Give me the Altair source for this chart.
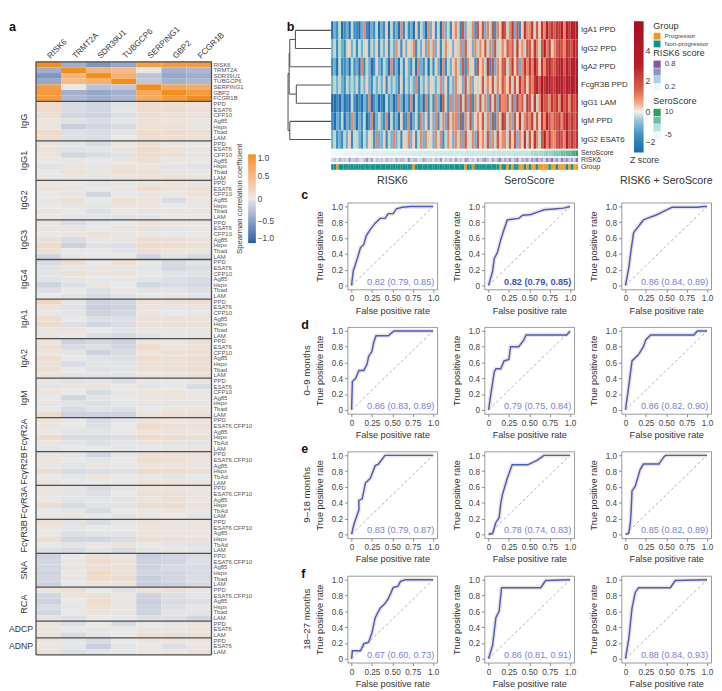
import altair as alt
import pandas as pd

FONT = "Liberation Sans"
TXT = "#333333"

# ======================= panel a data =======================
GENES = ["RISK6", "TRMT2A", "SDR39U1", "TUBGCP6", "SERPING1", "GBP2", "FCGR1B"]
AG7 = ["PPD", "ESAT6", "CFP10", "Ag85", "Hspx", "Tbad", "LAM"]
AGF = ["PPD", "ESAT6.CFP10", "Ag85", "Hspx", "TbAd", "LAM"]
AGL = ["PPD", "ESAT6.CFP10", "Ag85", "Hspx", "Tbad", "LAM"]
AGE = ["PPD", "ESAT6", "LAM"]

BLOCK_NAMES = ["genes", "IgG", "IgG1", "IgG2", "IgG3", "IgG4", "IgA1", "IgA2", "IgM",
               "FcγR2A", "FcγR2B", "FcγR3A", "FcγR3B", "SNA", "RCA", "ADCP", "ADNP"]
BLOCK_ROWS = [GENES, AG7, AG7, AG7, AG7, AG7, AG7, AG7, AG7, AGF, AGF, AGF, AGF, AGL, AGL, AGE, AGE]

# Spearman coefficients x100, columns in GENES order
CORR = {
    "genes": [[100, -40, -58, -45, 82, 86, 86], [-40, 100, 58, 50, 2, -38, -33],
              [-58, 58, 100, 62, -25, -45, -40], [-45, 50, 62, 100, -22, -38, -33],
              [82, 2, -25, -22, 100, 72, 68], [86, -38, -45, -38, 72, 100, 86],
              [86, -33, -40, -33, 68, 86, 100]],
    "IgG": [[12, -9, -12, -4, 12, 9, 6], [15, -8, -12, -3, 15, 12, 9], [9, -12, -15, -6, 12, 10, 8],
            [3, -5, -8, -3, 8, 5, 3], [6, -18, -12, -8, 10, 8, 5], [15, -6, -9, -3, 15, 12, 9],
            [12, -6, -8, 0, 12, 9, 8]],
    "IgG1": [[4, -3, -9, 3, 9, 3, 0], [8, -4, -3, 6, 15, 8, 4], [6, -12, -8, -4, 12, 9, 4],
             [2, 3, 0, 4, 9, 3, 2], [-4, 6, 3, 8, 6, -3, -4], [0, 8, 4, 9, 8, 4, 2],
             [3, 3, 4, 6, 8, 9, 6]],
    "IgG2": [[3, 0, -3, 3, 4, 6, 3], [6, 3, 0, 3, 12, 6, 9], [0, 3, -12, 0, 4, 2, 6],
             [3, 8, 0, 9, 6, -8, 3], [0, 4, -3, 6, 3, 0, 2], [3, 0, -6, 3, 4, 3, 3],
             [0, -3, -3, -4, -3, 0, 0]],
    "IgG3": [[6, -8, -3, 0, 8, 6, 4], [3, 4, 0, 3, 6, 3, 2], [0, 3, 8, 4, 3, 0, 0],
             [9, -9, 3, 4, 12, 9, 6], [15, -15, -4, -6, 15, 12, 9], [9, 0, 0, -4, 9, 6, 4],
             [-12, 3, 0, 0, -12, -4, -9]],
    "IgG4": [[-8, 12, 0, 9, 0, -9, -3], [-4, 3, 4, 3, -3, -12, -8], [-3, 9, 6, 8, 0, -4, -4],
             [-4, 3, 0, 3, -3, -6, -9], [-15, -6, 3, 0, -12, -9, -10], [-6, 0, -6, 3, -3, -3, -6],
             [0, -3, -9, -4, 0, 3, -3]],
    "IgA1": [[20, -3, -15, -12, 9, 9, 12], [6, -4, -18, -15, 6, 3, 4], [3, -3, -15, -12, 4, 0, 3],
             [12, 0, -6, -6, 8, 8, 8], [15, -6, -12, -9, 8, 9, 8], [4, 6, 0, -3, 3, 3, 3],
             [3, 0, -6, -9, -4, 3, 4]],
    "IgA2": [[6, -15, -12, -15, 6, 3, 8], [9, -9, -6, -12, 15, 6, 8], [4, -3, -15, -9, 4, 9, 9],
             [12, 0, -4, -6, 12, 9, 12], [8, -8, -3, -4, 9, 8, 9], [9, 0, -4, -3, 8, 9, 12],
             [6, -3, -3, -4, 4, 6, 9]],
    "IgM": [[4, -4, -3, -9, 4, 3, 4], [-3, 3, 6, 0, -3, 0, -9], [6, 0, -9, 3, 6, 6, 3],
            [0, -12, -3, 0, 3, 4, 3], [3, -4, -6, -3, 4, 3, 3], [0, -9, -4, -6, 0, 3, 3],
            [12, -15, -15, -15, 6, 9, 9]],
    "FcγR2A": [[6, 0, -8, -3, 6, 3, 4], [6, 0, -6, 0, 15, 9, 8], [0, -3, -3, 0, 6, 4, 3],
               [15, -9, -9, -6, 15, 12, 10], [3, -3, -6, -3, 3, 4, -3], [-3, 0, 0, -3, 0, 3, 4]],
    "FcγR2B": [[4, -3, -12, -3, 9, 9, 8], [6, 0, -3, 0, 12, 9, 6], [3, -3, 3, 0, 6, 3, 3],
               [12, -9, -6, -4, 15, 12, 9], [0, -3, 6, 0, 3, -3, 0], [4, 0, 0, 0, 6, 6, 6]],
    "FcγR3A": [[4, -3, -8, -3, 6, 6, 3], [3, -3, -6, 0, 9, 9, 4], [0, -3, -3, -3, 4, 9, 3],
               [12, -9, -4, -4, 12, 12, 8], [0, -3, -9, 0, 3, 6, 3], [3, 6, 0, -3, 3, 0, -3]],
    "FcγR3B": [[9, -4, -9, -3, 8, 6, 4], [3, -3, 0, 0, 6, 3, 3], [0, -6, -3, -3, 4, 3, 3],
               [12, -12, -12, -9, 12, 9, 8], [0, -3, 3, 6, 0, -3, -4], [-6, -9, -3, -9, -3, 3, -3]],
    "SNA": [[-15, 0, 9, 6, -18, -12, -8], [-12, 3, 12, 8, -15, -12, -6], [-12, 4, 9, 9, -15, -9, -8],
            [-15, 0, 15, 9, -12, -12, -9], [-12, 3, 12, 12, -18, -12, -8], [-15, 0, 6, 6, -18, -15, -9]],
    "RCA": [[6, 9, 0, -4, 6, 9, 3], [-12, 6, 9, 3, -15, -6, -3], [-15, 0, 12, 6, -18, -9, -6],
            [-9, 3, 9, 3, -15, -6, -3], [-12, 0, 6, 3, -15, -3, -3], [-3, -6, 0, 0, -6, -6, -12]],
    "ADCP": [[6, -6, 0, -9, 0, 3, 6], [6, 0, 3, 0, 3, 3, 6], [6, -9, -3, 0, 9, 9, 9]],
    "ADNP": [[6, -3, -9, 0, 3, 6, 4], [3, -3, -18, -3, 0, -6, 3], [9, -6, -3, -3, 6, 6, 9]],
}

# ======================= panel b data =======================
Z_ROWS = ["IgA1 PPD", "IgG2 PPD", "IgA2 PPD", "FcgR3B PPD", "IgG1 LAM", "IgM PPD", "IgG2 ESAT6"]
Z_LEVELS = [-2.5, -1.7, -1.0, -0.35, 0.3, 1.0, 1.8, 2.6, 3.5, 4.5]
Z_CODES = [
    "0213012031" "1025102130" "2140312051" "3120413205" "2413052314"
    "5316243516" "4625361547" "6357261475" "5736475867" "6778587888",
    "2313213423" "1323413241" "3241325314" "2435132425" "3524135342"
    "4352634253" "5463526345" "4656374536" "6475368574" "5676577687",
    "1203112031" "2051320142" "1320512031" "4213052130" "3142051324"
    "5326153416" "4537162546" "6357462575" "7586475786" "6788687898",
    "2323213232" "3132421323" "2413232141" "3232513242" "4323524132"
    "5342635243" "4635463546" "5463647564" "6578697887" "7898788989",
    "0010201031" "0102150120" "1031201520" "2150312051" "3152063152"
    "5263626153" "6352636265" "5636275637" "6473586657" "6758675767",
    "1021302152" "0213015023" "2150312041" "1502315241" "4251352635"
    "5261536245" "4635261537" "6352647356" "5736475865" "6675786767",
    "2312132413" "3213243152" "2413252314" "3524135253" "4253513542"
    "5352643526" "4536253645" "5364625473" "6475368575" "5676586767",
]
SERO = [-6, -6, -5, -5, -5, -5, -4, -4, -4, -4, -4, -3, -3, -3, -3, -3, -3, -2, -2, -2,
        -2, -2, -2, -2, -1, -1, -1, -1, -1, -1, -1, -1, 0, 0, 0, 0, 0, 0, 0, 0,
        0, 0, 0, 1, 1, 1, 1, 1, 1, 1, 1, 1, 1, 1, 2, 2, 2, 2, 2, 2,
        2, 2, 2, 2, 2, 3, 3, 3, 3, 3, 3, 3, 3, 3, 4, 4, 4, 4, 4, 4,
        4, 5, 5, 5, 5, 5, 6, 6, 6, 6, 7, 7, 7, 8, 8, 8, 9, 9, 10, 11]
RISK6_CODES = ("2314231623" "4213625132" "3142315243" "1623412532" "3142613241"
               "5231642315" "2463152472" "5362471536" "2647352748" "3627463528")
GROUP_CODES = ("NNPNNNNNNN" "NNNNNNNNNN" "NNNNNNNNNN" "NNNPNNNNNN" "NNNNNNNNNN"
               "NNNNPNNPNN" "NNNNNNNNPN" "NPNPNNPPNP" "NPPNPPPPNP" "PNPPPNPNPP")
# dendrogram merges: (child a, child b, height)
MERGES = [("L0", "L1", 41.0), ("n1", "L2", 47.5), ("L3", "L4", 40.0),
          ("n2", "n3", 48.2), ("L5", "L6", 47.5), ("n4", "n5", 49.5)]

# ======================= panels c-f data =======================
COL_TITLES = ["RISK6", "SeroScore", "RISK6 + SeroScore"]
ROW_TITLES = ["", "0–9 months", "9–18 months", "18–27 months"]
LETTERS = ["c", "d", "e", "f"]

C_R_FPR = [0, 0.02, 0.07, 0.11, 0.15, 0.18, 0.23, 0.29, 0.35, 0.41, 0.45, 0.51, 0.55, 0.62, 0.72, 1.0]
C_R_TPR = [0, 0.18, 0.34, 0.48, 0.52, 0.63, 0.71, 0.79, 0.85, 0.85, 0.91, 0.91, 0.97, 0.99, 1.0, 1.0]
C_S_FPR = [0, 0.05, 0.07, 0.11, 0.15, 0.19, 0.23, 0.29, 0.37, 0.42, 0.52, 0.6, 0.68, 0.8, 0.92, 1.0]
C_S_TPR = [0, 0.18, 0.34, 0.42, 0.58, 0.71, 0.83, 0.84, 0.85, 0.89, 0.9, 0.93, 0.96, 0.97, 0.98, 1.0]
C_B_FPR = [0, 0.04, 0.07, 0.1, 0.16, 0.22, 0.29, 0.37, 0.45, 0.53, 0.57, 0.88, 0.96, 1.0]
C_B_TPR = [0, 0.22, 0.46, 0.67, 0.75, 0.83, 0.86, 0.89, 0.93, 0.97, 0.99, 0.99, 1.0, 1.0]
D_R_FPR = [0, 0.01, 0.05, 0.09, 0.15, 0.19, 0.21, 0.25, 0.27, 0.3, 0.45, 0.52, 1.0]
D_R_TPR = [0, 0.36, 0.4, 0.5, 0.5, 0.58, 0.68, 0.74, 0.85, 0.94, 0.94, 1.0, 1.0]
D_S_FPR = [0, 0.03, 0.07, 0.09, 0.15, 0.19, 0.25, 0.27, 0.37, 0.43, 0.46, 0.96, 1.0]
D_S_TPR = [0, 0.21, 0.48, 0.52, 0.52, 0.62, 0.64, 0.8, 0.8, 0.88, 0.95, 0.95, 1.0]
D_B_FPR = [0, 0.04, 0.08, 0.16, 0.22, 0.25, 0.31, 0.84, 0.88, 1.0]
D_B_TPR = [0, 0.3, 0.62, 0.7, 0.8, 0.89, 0.95, 0.95, 1.0, 1.0]
E_R_FPR = [0, 0.03, 0.05, 0.09, 0.09, 0.13, 0.17, 0.23, 0.29, 0.33, 0.41, 1.0]
E_R_TPR = [0, 0.13, 0.19, 0.31, 0.43, 0.45, 0.65, 0.71, 0.87, 0.89, 1.0, 1.0]
E_S_FPR = [0, 0.05, 0.09, 0.13, 0.15, 0.17, 0.23, 0.29, 0.48, 0.6, 0.68, 1.0]
E_S_TPR = [0, 0.01, 0.15, 0.21, 0.39, 0.5, 0.71, 0.88, 0.88, 0.94, 1.0, 1.0]
E_B_FPR = [0, 0.04, 0.06, 0.07, 0.08, 0.12, 0.18, 0.22, 0.41, 0.47, 0.49, 1.0]
E_B_TPR = [0, 0.01, 0.15, 0.31, 0.55, 0.61, 0.82, 0.89, 0.89, 0.98, 1.0, 1.0]
F_R_FPR = [0, 0.01, 0.11, 0.15, 0.21, 0.25, 0.29, 0.35, 0.41, 0.45, 0.51, 0.57, 0.6, 0.66, 1.0]
F_R_TPR = [0, 0.1, 0.1, 0.19, 0.21, 0.33, 0.52, 0.64, 0.7, 0.76, 0.9, 0.92, 0.98, 1.0, 1.0]
F_S_FPR = [0, 0.05, 0.09, 0.13, 0.16, 0.64, 0.7, 1.0]
F_S_TPR = [0, 0.17, 0.52, 0.6, 0.9, 0.9, 0.99, 1.0]
F_B_FPR = [0, 0.04, 0.08, 0.12, 0.16, 0.55, 0.61, 1.0]
F_B_TPR = [0, 0.25, 0.64, 0.84, 0.9, 0.9, 0.99, 1.0]

AUC = [["0.82 (0.79, 0.85)", "0.82 (0.79, 0.85)", "0.86 (0.84, 0.89)"],
       ["0.86 (0.83, 0.89)", "0.79 (0.75, 0.84)", "0.86 (0.82, 0.90)"],
       ["0.83 (0.79, 0.87)", "0.78 (0.74, 0.83)", "0.85 (0.82, 0.89)"],
       ["0.67 (0.60, 0.73)", "0.86 (0.81, 0.91)", "0.88 (0.84, 0.93)"]]

ROC = [[(C_R_FPR, C_R_TPR), (C_S_FPR, C_S_TPR), (C_B_FPR, C_B_TPR)],
       [(D_R_FPR, D_R_TPR), (D_S_FPR, D_S_TPR), (D_B_FPR, D_B_TPR)],
       [(E_R_FPR, E_R_TPR), (E_S_FPR, E_S_TPR), (E_B_FPR, E_B_TPR)],
       [(F_R_FPR, F_R_TPR), (F_S_FPR, F_S_TPR), (F_B_FPR, F_B_TPR)]]


def one(text):
    return pd.DataFrame({"t": [text]})


# ======================= panel a chart =======================
rows_a, cells_a, groups_a, seps_a = [], [], [], []
r = 0
for name, ags in zip(BLOCK_NAMES, BLOCK_ROWS):
    start = r
    for ag, vrow in zip(ags, CORR[name]):
        rows_a.append({"label": ag, "yc": r + 0.5})
        for g, v in zip(GENES, vrow):
            cells_a.append({"gene": g, "y0": r, "y1": r + 1, "rho": v / 100})
        r += 1
    seps_a.append({"b": start})
    if name != "genes":
        groups_a.append({"name": name, "c": (start + r) / 2, "horiz": name in ("ADCP", "ADNP")})
seps_a.append({"b": r})
NROW = r
df_groups = pd.DataFrame(groups_a)

WA, HA = 182, 657
TOP_A = 42
ya_scale = alt.Scale(domain=[0, NROW], range=[TOP_A, HA], nice=False, zero=False)
xa_scale = alt.Scale(paddingInner=0, paddingOuter=0)

heat_a = alt.Chart(pd.DataFrame(cells_a)).mark_rect().encode(
    x=alt.X("gene:N", sort=GENES, scale=xa_scale, axis=None),
    y=alt.Y("y0:Q", scale=ya_scale, axis=None),
    y2="y1:Q",
    color=alt.Color("rho:Q", scale=alt.Scale(domain=[-1, 0, 1], range=["#1f5fa3", "#e8e8e8", "#f28e1c"]),
                    legend=alt.Legend(title="Spearman correlation coefficient", orient="none",
                                      legendX=208, legendY=138, direction="vertical",
                                      titleOrient="left", titleAnchor="middle", titleFontSize=8,
                                      titleFontWeight="normal", titleColor="#444", titlePadding=3,
                                      gradientLength=92, gradientThickness=8, gradientStrokeWidth=0,
                                      labelFontSize=8.5, labelColor="#444",
                                      values=[1, 0.5, 0, -0.5, -1],
                                      labelExpr="datum.value==0?'0':format(datum.value,'.1f')")),
)
genelab_a = alt.Chart(pd.DataFrame({"gene": GENES})).mark_text(
    angle=315, align="left", baseline="middle", fontSize=8.5, color=TXT).encode(
    x=alt.X("gene:N", sort=GENES, scale=xa_scale, axis=None), y=alt.value(TOP_A - 5), text="gene:N")
sep_a = alt.Chart(pd.DataFrame(seps_a)).mark_rule(color="#4d4d4d", strokeWidth=1.3).encode(
    y=alt.Y("b:Q", scale=ya_scale, axis=None), x=alt.value(0), x2=alt.value(WA))
left_a = alt.Chart(one("l")).mark_rule(color="#4d4d4d", strokeWidth=1.3).encode(
    x=alt.value(0), y=alt.value(TOP_A), y2=alt.value(HA))
right_a = alt.Chart(one("r")).mark_rule(color="#4d4d4d", strokeWidth=1.3).encode(
    x=alt.value(WA), y=alt.value(TOP_A), y2=alt.value(HA))
lab_a = alt.Chart(pd.DataFrame(rows_a)).mark_text(align="left", baseline="middle", fontSize=6.2,
                                                  color="#555").encode(
    x=alt.value(WA + 2), y=alt.Y("yc:Q", scale=ya_scale, axis=None), text="label:N")
grot_a = alt.Chart(df_groups[~df_groups["horiz"]]).mark_text(
    angle=270, align="center", baseline="middle", fontSize=9.5, color=TXT).encode(
    x=alt.value(-12), y=alt.Y("c:Q", scale=ya_scale, axis=None), text="name:N")
ghor_a = alt.Chart(df_groups[df_groups["horiz"]]).mark_text(
    align="right", baseline="middle", fontSize=9, color=TXT).encode(
    x=alt.value(-3), y=alt.Y("c:Q", scale=ya_scale, axis=None), text="name:N")
letter_a = alt.Chart(one("a")).mark_text(align="left", baseline="top", fontSize=13,
                                         fontWeight="bold", color="#111").encode(
    x=alt.value(-28), y=alt.value(0), text="t:N")

panel_a = alt.layer(heat_a, genelab_a, sep_a, left_a, right_a, lab_a, grot_a, ghor_a, letter_a).properties(
    width=WA, height=HA, view=alt.ViewBackground(stroke="transparent"))

# ======================= panel b chart =======================
WB, HB = 239, 154
HEAT_LEFT = -17
NCOL = len(Z_CODES[0])
SERO_BAND = (7.1, 7.41)
RISK_BAND = (7.5, 7.73)
GROUP_BAND = (7.85, 8.16)
YMAX = 8.16
yb = alt.Scale(domain=[YMAX, 0], nice=False, zero=False)
xb = alt.Scale(domain=[0, NCOL], range=[HEAT_LEFT, WB], nice=False, zero=False)

zcells = []
for ri, code in enumerate(Z_CODES):
    for ci, ch in enumerate(code):
        zcells.append({"c0": ci, "c1": ci + 1, "r0": ri, "r1": ri + 1, "z": Z_LEVELS[int(ch)]})
sero_cells = [{"c0": i, "c1": i + 1, "r0": SERO_BAND[0], "r1": SERO_BAND[1], "v": v} for i, v in enumerate(SERO)]
risk_cells = [{"c0": i, "c1": i + 1, "r0": RISK_BAND[0], "r1": RISK_BAND[1], "v": int(ch) / 10 + 0.05}
              for i, ch in enumerate(RISK6_CODES)]
grp_cells = [{"c0": i, "c1": i + 1, "r0": GROUP_BAND[0], "r1": GROUP_BAND[1],
              "g": "Progressor" if ch == "P" else "Non-progressor"} for i, ch in enumerate(GROUP_CODES)]


def band_enc():
    return dict(x=alt.X("c0:Q", scale=xb, axis=None), x2="c1:Q",
                y=alt.Y("r0:Q", scale=yb, axis=None), y2="r1:Q")


zmain = alt.Chart(pd.DataFrame(zcells)).mark_rect().encode(
    **band_enc(),
    color=alt.Color("z:Q", scale=alt.Scale(domain=[-2.7, -1.5, -0.6, 0, 0.6, 1.5, 3, 6],
                                           range=["#2166ac", "#4393c3", "#92c5de", "#f4f1ef",
                                                  "#f4a582", "#d6604d", "#b8202e", "#a50f25"]),
                    legend=alt.Legend(title="Z score", orient="none", legendX=293, legendY=0,
                                      direction="vertical", gradientLength=136, gradientThickness=10,
                                      gradientStrokeWidth=0, titleOrient="bottom", titleAnchor="middle",
                                      titleFontSize=9, titleFontWeight="normal", titleColor=TXT,
                                      titlePadding=4, labelFontSize=9, labelColor="#444",
                                      values=[-2, 0, 2, 4])))
zsero = alt.Chart(pd.DataFrame(sero_cells)).mark_rect().encode(
    **band_enc(),
    color=alt.Color("v:Q", scale=alt.Scale(domain=[-6, 4, 11], range=["#f1f8f8", "#bde3dd", "#2ca25f"]),
                    legend=None))
zrisk = alt.Chart(pd.DataFrame(risk_cells)).mark_rect().encode(
    **band_enc(),
    color=alt.Color("v:Q", scale=alt.Scale(domain=[0, 1], range=["#f3f3fa", "#7d5aa8"]), legend=None))
zgrp = alt.Chart(pd.DataFrame(grp_cells)).mark_rect().encode(
    **band_enc(),
    color=alt.Color("g:N", scale=alt.Scale(domain=["Progressor", "Non-progressor"],
                                           range=["#f7941d", "#0d9490"]),
                    legend=alt.Legend(title="Group", orient="none", legendX=317, legendY=0,
                                      symbolType="square", symbolSize=50, symbolStrokeWidth=0,
                                      rowPadding=0, labelFontSize=6.5, labelColor="#444",
                                      titleFontSize=9.5, titleFontWeight="normal", titleColor=TXT,
                                      titlePadding=2)))
RISK_LEVELS = ["0.8", "0.6", "0.4", "0.2"]
SERO_LEVELS = ["10", "5", "0", "-5"]
leg_risk = alt.Chart(pd.DataFrame({"k": RISK_LEVELS})).mark_square(opacity=0, size=1).encode(
    x=alt.value(0), y=alt.value(0),
    color=alt.Color("k:N", sort=RISK_LEVELS,
                    scale=alt.Scale(domain=RISK_LEVELS, range=["#8856a7", "#8c96c6", "#b3cde3", "#edf8fb"]),
                    legend=alt.Legend(title="RISK6 score", orient="none", legendX=317, legendY=28,
                                      symbolType="square", symbolSize=56, symbolStrokeWidth=0,
                                      symbolOpacity=1, rowPadding=0, labelFontSize=8,
                                      labelColor="#444", titleFontSize=9.5, titleFontWeight="normal",
                                      titleColor=TXT, titlePadding=3,
                                      labelExpr="datum.value=='0.8'||datum.value=='0.2'?datum.value:''")))
leg_sero = alt.Chart(pd.DataFrame({"k": SERO_LEVELS})).mark_square(opacity=0, size=1).encode(
    x=alt.value(0), y=alt.value(0),
    color=alt.Color("k:N", sort=SERO_LEVELS,
                    scale=alt.Scale(domain=SERO_LEVELS, range=["#2ca25f", "#66c2a4", "#b2e2e2", "#edf8fb"]),
                    legend=alt.Legend(title="SeroScore", orient="none", legendX=317, legendY=78,
                                      symbolType="square", symbolSize=56, symbolStrokeWidth=0,
                                      symbolOpacity=1, rowPadding=0, labelFontSize=8,
                                      labelColor="#444", titleFontSize=9.5, titleFontWeight="normal",
                                      titleColor=TXT, titlePadding=3,
                                      labelExpr="datum.value=='10'||datum.value=='-5'?datum.value:''")))
blabels = [{"label": n, "yc": i + 0.5, "fs": 8.2} for i, n in enumerate(Z_ROWS)]
blabels += [{"label": "SeroScore", "yc": sum(SERO_BAND) / 2, "fs": 7.2},
            {"label": "RISK6", "yc": sum(RISK_BAND) / 2, "fs": 7.2},
            {"label": "Group", "yc": sum(GROUP_BAND) / 2, "fs": 7.2}]
blab = alt.Chart(pd.DataFrame(blabels)).mark_text(align="left", baseline="middle", color=TXT).encode(
    x=alt.value(WB + 3), y=alt.Y("yc:Q", scale=yb, axis=None), text="label:N",
    size=alt.Size("fs:Q", scale=None))

# dendrogram segments
pos = {f"L{i}": (0.0, i + 0.5) for i in range(len(Z_ROWS))}
segs = []
for k, (a, b, h) in enumerate(MERGES):
    ha, ya = pos[a]
    hb, yb_ = pos[b]
    segs.append({"h1": h, "h2": h, "y1": ya, "y2": yb_})
    segs.append({"h1": ha, "h2": h, "y1": ya, "y2": ya})
    segs.append({"h1": hb, "h2": h, "y1": yb_, "y2": yb_})
    pos[f"n{k + 1}"] = (h, (ya + yb_) / 2)
dend = alt.Chart(pd.DataFrame(segs)).mark_rule(color="#555", strokeWidth=1.1).encode(
    x=alt.X("h1:Q", scale=alt.Scale(domain=[51, 0], range=[-63, HEAT_LEFT], nice=False, zero=False),
            axis=None),
    x2="h2:Q",
    y=alt.Y("y1:Q", scale=yb, axis=None), y2="y2:Q")
letter_b = alt.Chart(one("b")).mark_text(align="left", baseline="top", fontSize=13,
                                         fontWeight="bold", color="#111").encode(
    x=alt.value(-63), y=alt.value(0), text="t:N")

panel_b = alt.layer(zmain, zsero, zrisk, zgrp, leg_risk, leg_sero, blab, dend, letter_b).resolve_scale(
    color="independent", x="independent").properties(
    width=WB, height=HB, view=alt.ViewBackground(stroke="transparent"))

# ======================= panels c-f =======================
W, H = 93, 90
RS = alt.Scale(domain=[-0.05, 1.05], nice=False, zero=False)
AX_X = alt.Axis(title="False positive rate", values=[0, 0.25, 0.5, 0.75, 1], grid=False, domain=False,
                labelExpr="datum.value==0?'0':datum.value==1?'1.0':format(datum.value,'.2f')",
                tickSize=3, tickColor="#888", labelFontSize=8.5, labelColor="#444", labelPadding=2,
                labelFlush=False, titleFontSize=9.5, titleFontWeight="normal", titleColor=TXT,
                titlePadding=3)
AX_Y = alt.Axis(title="True positive rate", values=[0, 0.2, 0.4, 0.6, 0.8, 1], grid=False, domain=False,
                labelExpr="datum.value==0?'0':format(datum.value,'.1f')",
                tickSize=3, tickColor="#888", labelFontSize=8.5, labelColor="#444", labelPadding=2,
                labelFlush=False, titleFontSize=9.5, titleFontWeight="normal", titleColor=TXT,
                titlePadding=7)
DIAG = pd.DataFrame({"fpr": [0, 1], "tpr": [0, 1]})

cells = []
for ri in range(4):
    for ci in range(3):
        fpr, tpr = ROC[ri][ci]
        df = pd.DataFrame({"fpr": fpr, "tpr": tpr, "o": list(range(len(fpr)))})
        X = alt.X("fpr:Q", scale=RS, axis=AX_X)
        Y = alt.Y("tpr:Q", scale=RS, axis=AX_Y)
        layers = [
            alt.Chart(DIAG).mark_line(color="#9a9a9a", strokeDash=[3, 2.5], strokeWidth=0.8).encode(x=X, y=Y),
            alt.Chart(df).mark_line(color="#d9c6b4", opacity=0.45, strokeWidth=4.5, strokeJoin="round").encode(
                x=X, y=Y, order="o:Q"),
            alt.Chart(df).mark_line(color="#4a5bc4", strokeWidth=1.5).encode(x=X, y=Y, order="o:Q"),
        ]
        strong = (ri == 0 and ci == 1)
        layers.append(alt.Chart(one(AUC[ri][ci])).mark_text(
            align="right", baseline="alphabetic", fontSize=9.5,
            color="#474fb5" if strong else "#7a80d6", fontWeight="bold" if strong else "normal").encode(
            x=alt.value(W - 3), y=alt.value(H - 5), text="t:N"))
        ly = -4 if ri == 0 else 2
        layers.append(alt.Chart(one(LETTERS[ri])).mark_text(
            align="left", baseline="alphabetic", fontSize=13, fontWeight="bold", color="#111",
            opacity=1 if ci == 0 else 0).encode(
            x=alt.value(-48 if ci == 0 else 2), y=alt.value(ly), text="t:N"))
        if ci == 0 and ROW_TITLES[ri]:
            layers.append(alt.Chart(one(ROW_TITLES[ri])).mark_text(
                angle=270, align="center", baseline="middle", fontSize=10, color=TXT).encode(
                x=alt.value(-42), y=alt.value(H / 2), text="t:N"))
        ch = alt.layer(*layers).properties(width=W, height=H)
        if ri == 0:
            ch = ch.properties(title=alt.TitleParams(COL_TITLES[ci], fontSize=11, fontWeight="normal",
                                                     color=TXT, offset=3))
        cells.append(ch)

grid = alt.concat(*cells, columns=3, spacing={"row": 3, "column": 11})

right = alt.vconcat(panel_b, grid, spacing=4).resolve_scale(color="independent")
chart = alt.hconcat(panel_a, right, spacing=11, padding=0).resolve_scale(color="independent").configure(
    font=FONT).configure_view(stroke="#8c8c8c", strokeWidth=0.9)

chart.save("out.html", embed_options={"renderer": "svg", "actions": False})
